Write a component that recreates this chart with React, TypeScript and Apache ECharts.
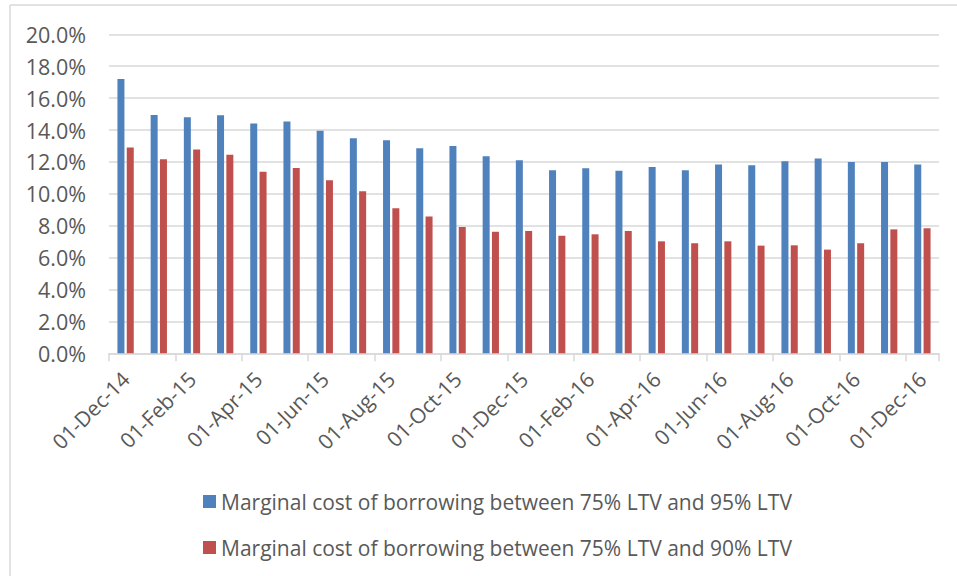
import React, { useEffect, useRef } from "react";
import * as echarts from "echarts";

const categories = [
  "01-Dec-14", "01-Jan-15", "01-Feb-15", "01-Mar-15", "01-Apr-15", "01-May-15",
  "01-Jun-15", "01-Jul-15", "01-Aug-15", "01-Sep-15", "01-Oct-15", "01-Nov-15",
  "01-Dec-15", "01-Jan-16", "01-Feb-16", "01-Mar-16", "01-Apr-16", "01-May-16",
  "01-Jun-16", "01-Jul-16", "01-Aug-16", "01-Sep-16", "01-Oct-16", "01-Nov-16",
  "01-Dec-16",
];

const ltv95 = [
  17.2, 14.94, 14.8, 14.92, 14.4, 14.54, 13.96, 13.48, 13.35, 12.85, 13.0, 12.35,
  12.1, 11.47, 11.6, 11.45, 11.68, 11.47, 11.83, 11.79, 12.04, 12.22, 11.99, 11.99,
  11.83,
];

const ltv90 = [
  12.9, 12.16, 12.77, 12.45, 11.39, 11.62, 10.85, 10.16, 9.09, 8.57, 7.92, 7.62,
  7.67, 7.37, 7.46, 7.67, 7.02, 6.9, 7.02, 6.75, 6.77, 6.5, 6.9, 7.77,
  7.84,
];

const seriesNames = [
  "Marginal cost of borrowing between 75% LTV and 95% LTV",
  "Marginal cost of borrowing between 75% LTV and 90% LTV",
];

const FONT = "'Open Sans', 'Noto Sans', sans-serif";
const TEXT = "#595959";
const GRID = "#d9d9d9";

export default function App() {
  const ref = useRef<HTMLDivElement>(null);

  useEffect(() => {
    if (!ref.current) return;
    const chart = echarts.init(ref.current, null, { renderer: "svg" });
    chart.setOption({
      animation: false,
      backgroundColor: "#ffffff",
      textStyle: { fontFamily: FONT },
      grid: { left: 109, right: 18, top: 34.3, bottom: 222.7, containLabel: false },
      graphic: [
        {
          type: "line",
          shape: { x1: 10, y1: 5, x2: 957, y2: 5 },
          style: { stroke: GRID, lineWidth: 1.5 },
        },
        {
          type: "line",
          shape: { x1: 10, y1: 5, x2: 10, y2: 576 },
          style: { stroke: GRID, lineWidth: 1.5 },
        },
      ],
      legend: {
        orient: "vertical",
        left: 198,
        top: 486,
        itemWidth: 13,
        itemHeight: 13,
        itemGap: 25,
        icon: "rect",
        textStyle: { fontFamily: FONT, fontSize: 21, color: TEXT, lineHeight: 21 },
        data: seriesNames,
      },
      xAxis: {
        type: "category",
        data: categories,
        boundaryGap: true,
        axisLine: { show: true, lineStyle: { color: GRID, width: 1.5 } },
        axisTick: { show: true, interval: 1, length: 8, lineStyle: { color: GRID, width: 1.5 } },
        axisLabel: {
          interval: 1,
          rotate: 45,
          margin: 22,
          fontFamily: FONT,
          fontSize: 21,
          color: TEXT,
        },
        splitLine: { show: false },
      },
      yAxis: {
        type: "value",
        min: 0,
        max: 20,
        interval: 2,
        axisLine: { show: false },
        axisTick: { show: false },
        axisLabel: {
          margin: 23,
          fontFamily: FONT,
          fontSize: 21.5,
          color: TEXT,
          formatter: (v: number) => v.toFixed(1) + "%",
        },
        splitLine: { show: true, lineStyle: { color: GRID, width: 1.5 } },
      },
      series: [
        {
          name: seriesNames[0],
          type: "bar",
          data: ltv95,
          barWidth: 7,
          barGap: "33%",
          itemStyle: { color: "#4f81bd" },
        },
        {
          name: seriesNames[1],
          type: "bar",
          data: ltv90,
          barWidth: 7,
          barGap: "33%",
          itemStyle: { color: "#c0504d" },
        },
      ],
    });
    return () => chart.dispose();
  }, []);

  return (
    <div
      ref={ref}
      style={{ position: "absolute", left: 0, top: 0, width: 957, height: 576 }}
    />
  );
}
